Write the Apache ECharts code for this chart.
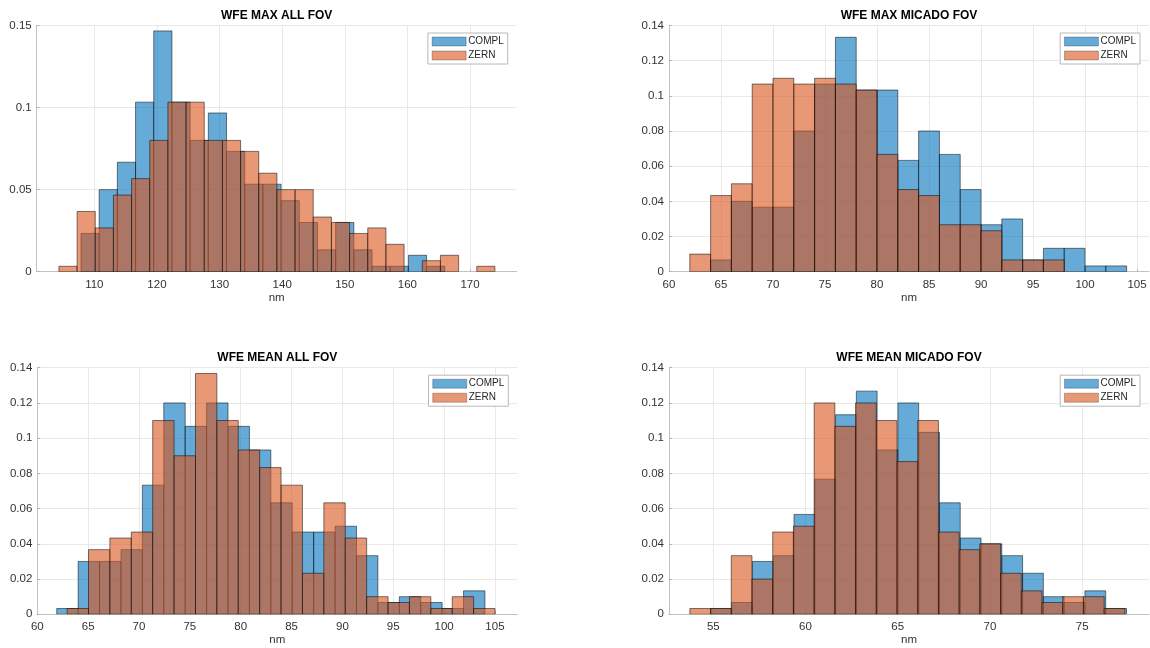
<!DOCTYPE html>
<html>
<head>
<meta charset="utf-8">
<script src="https://cdn.jsdelivr.net/npm/echarts@6/dist/echarts.min.js"></script>
<style>
  html, body { margin: 0; padding: 0; background: #fff; }
  #chart { width: 1150px; height: 648px; }
</style>
</head>
<body>
<div id="chart"></div>
<script>
// Wavefront error histograms (probability per bin), two reconstructions per panel.
const seriesNames = ['COMPL', 'ZERN'];
const panelTitles = ['WFE MAX ALL FOV', 'WFE MAX MICADO FOV', 'WFE MEAN ALL FOV', 'WFE MEAN MICADO FOV'];
const xLabel = 'nm';

// Bin layout: first edge and constant bin width (nm).
const maxAllComplBins = { start: 107.87, width: 2.905 };
const maxAllZernBins  = { start: 104.35, width: 2.901 };
const maxMicComplBins = { start: 64, width: 2 };
const maxMicZernBins  = { start: 62, width: 2 };
const meanAllComplBins = { start: 61.91, width: 2.1055 };
const meanAllZernBins  = { start: 62.93, width: 2.104 };
const meanMicComplBins = { start: 54.87, width: 1.1265 };
const meanMicZernBins  = { start: 53.73, width: 1.123 };

// Bin probabilities.
const maxAllCompl = [0.0233, 0.05, 0.0667, 0.1033, 0.1467, 0.1033, 0.08, 0.0967, 0.0733, 0.0533,
                     0.0533, 0.0433, 0.03, 0.0133, 0.03, 0.0133, 0.0033, 0.0033, 0.01, 0.0033];
const maxAllZern  = [0.0033, 0.0367, 0.0267, 0.0467, 0.0567, 0.08, 0.1033, 0.1033, 0.08, 0.08,
                     0.0733, 0.06, 0.05, 0.05, 0.0333, 0.03, 0.0233, 0.0267, 0.0167, 0,
                     0.0067, 0.01, 0, 0.0033];
const maxMicCompl = [0.0067, 0.04, 0.0367, 0.0367, 0.08, 0.1067, 0.1333, 0.1033, 0.1033, 0.0633,
                     0.08, 0.0667, 0.0467, 0.0267, 0.03, 0.0067, 0.0133, 0.0133, 0.0033, 0.0033];
const maxMicZern  = [0.01, 0.0433, 0.05, 0.1067, 0.11, 0.1067, 0.11, 0.1067, 0.1033, 0.0667,
                     0.0467, 0.0433, 0.0267, 0.0267, 0.0233, 0.0067, 0.0067, 0.0067];
const meanAllCompl = [0.0033, 0.03, 0.03, 0.0367, 0.0733, 0.12, 0.1067, 0.12, 0.1067, 0.0933,
                      0.0633, 0.0467, 0.0467, 0.05, 0.0333, 0.0067, 0.01, 0.0067, 0.0033, 0.0133];
const meanAllZern  = [0.0033, 0.0367, 0.0433, 0.0467, 0.11, 0.09, 0.1367, 0.11, 0.0933, 0.0833,
                      0.0733, 0.0233, 0.0633, 0.0433, 0.01, 0.0067, 0.01, 0.0033, 0.01, 0.0033];
const meanMicCompl = [0.0033, 0.0067, 0.03, 0.0333, 0.0567, 0.0767, 0.1133, 0.1267, 0.0933, 0.12,
                      0.1033, 0.0633, 0.0433, 0.04, 0.0333, 0.0233, 0.01, 0.0067, 0.0133, 0.0033];
const meanMicZern  = [0.0033, 0.0033, 0.0333, 0.02, 0.0467, 0.05, 0.12, 0.1067, 0.12, 0.11,
                      0.0867, 0.11, 0.0467, 0.0367, 0.04, 0.0233, 0.0133, 0.0067, 0.01, 0.01, 0.0033];

// Axis limits and y tick step per panel.
const xLimits = [[100.8, 177.45], [60, 106.15], [60, 107.2], [52.6, 78.62]];
const yMax = [0.15, 0.14, 0.14, 0.14];
const yStep = [0.05, 0.02, 0.02, 0.02];

const panels = [
  [[maxAllComplBins, maxAllCompl], [maxAllZernBins, maxAllZern]],
  [[maxMicComplBins, maxMicCompl], [maxMicZernBins, maxMicZern]],
  [[meanAllComplBins, meanAllCompl], [meanAllZernBins, meanAllZern]],
  [[meanMicComplBins, meanMicCompl], [meanMicZernBins, meanMicZern]]
];

const FONT = '"Liberation Sans", Arial, Helvetica, sans-serif';
const FILL = ['rgba(0,114,189,0.6)', 'rgba(217,83,25,0.6)'];
const EDGE = 'rgba(0,0,0,0.72)';

const grids = [
  { left: 36.7, top: 25.5, width: 480, height: 246.2 },
  { left: 669, top: 25.5, width: 480, height: 246.2 },
  { left: 37.3, top: 367.7, width: 480, height: 246.6 },
  { left: 669, top: 367.7, width: 480, height: 246.6 }
];

function binRows(bins, probs) {
  return probs.map((p, i) => [bins.start + i * bins.width, bins.start + (i + 1) * bins.width, p]);
}

function renderBin(params, api) {
  const h = api.value(2);
  if (!h) return;
  const a = api.coord([api.value(0), 0]);
  const b = api.coord([api.value(1), h]);
  return {
    type: 'rect',
    shape: { x: a[0], y: b[1], width: b[0] - a[0], height: a[1] - b[1] },
    style: { fill: FILL[params.seriesIndex % 2], stroke: EDGE, lineWidth: 0.7 }
  };
}

const xAxes = xLimits.map((lim, i) => {
  const minIsTick = lim[0] % 5 === 0;
  return {
    type: 'value', gridIndex: i, min: lim[0], max: lim[1],
    interval: minIsTick ? 5 : undefined,
    splitNumber: i === 0 ? 8 : 5,
    name: xLabel, nameLocation: 'middle', nameGap: 20,
    nameTextStyle: { fontFamily: FONT, fontSize: 11.5, color: '#333' },
    axisLine: { show: true, onZero: false, lineStyle: { color: '#c2c2c2', width: 1 } },
    axisTick: { show: true, inside: true, length: 3, lineStyle: { color: '#b5b5b5' } },
    axisLabel: { margin: 7, fontFamily: FONT, fontSize: 11.5, color: '#333',
                 showMinLabel: minIsTick, showMaxLabel: false },
    splitLine: { show: true, showMinLine: false, showMaxLine: false,
                 lineStyle: { color: '#e9e9e9', width: 1 } }
  };
});

const yAxes = yMax.map((m, i) => ({
  type: 'value', gridIndex: i, min: 0, max: m, interval: yStep[i],
  axisLine: { show: true, lineStyle: { color: '#c2c2c2', width: 1 } },
  axisTick: { show: true, inside: true, length: 3, lineStyle: { color: '#b5b5b5' } },
  axisLabel: { margin: 5, fontFamily: FONT, fontSize: 11.5, color: '#333' },
  splitLine: { show: true, lineStyle: { color: '#e9e9e9', width: 1 } }
}));

const series = [];
panels.forEach((pair, i) => {
  pair.forEach(([bins, probs], k) => {
    series.push({
      type: 'custom', name: seriesNames[k], xAxisIndex: i, yAxisIndex: i,
      renderItem: renderBin, clip: true,
      encode: { x: [0, 1], y: 2 },
      itemStyle: { color: FILL[k], borderColor: EDGE, borderWidth: 0.7 },
      data: binRows(bins, probs)
    });
  });
});

const titles = panelTitles.map((t, i) => ({
  text: t, left: grids[i].left + grids[i].width / 2, top: grids[i].top - 16,
  textAlign: 'center', padding: 0,
  textStyle: { fontFamily: FONT, fontSize: 12, fontWeight: 'bold', color: '#000' }
}));

const legends = grids.map(g => ({
  data: seriesNames, orient: 'vertical', selectedMode: false,
  right: 1150 - (g.left + g.width) + 9, top: g.top + 7.5,
  icon: 'rect', itemWidth: 34, itemHeight: 9, itemGap: 4,
  padding: [3.5, 4, 3.5, 4],
  itemStyle: { borderWidth: 0.5, borderColor: 'rgba(0,0,0,0.5)' },
  borderColor: '#b8b8b8', borderWidth: 1, borderRadius: 0, backgroundColor: '#fff',
  textStyle: { fontFamily: FONT, fontSize: 10, color: '#262626', lineHeight: 9, padding: [0, 0, 0, -3] }
}));

const chart = echarts.init(document.getElementById('chart'), null, { renderer: 'canvas' });
chart.setOption({
  backgroundColor: '#fff',
  animation: false,
  textStyle: { fontFamily: FONT },
  title: titles,
  legend: legends,
  grid: grids,
  xAxis: xAxes,
  yAxis: yAxes,
  series: series
});
</script>
</body>
</html>
